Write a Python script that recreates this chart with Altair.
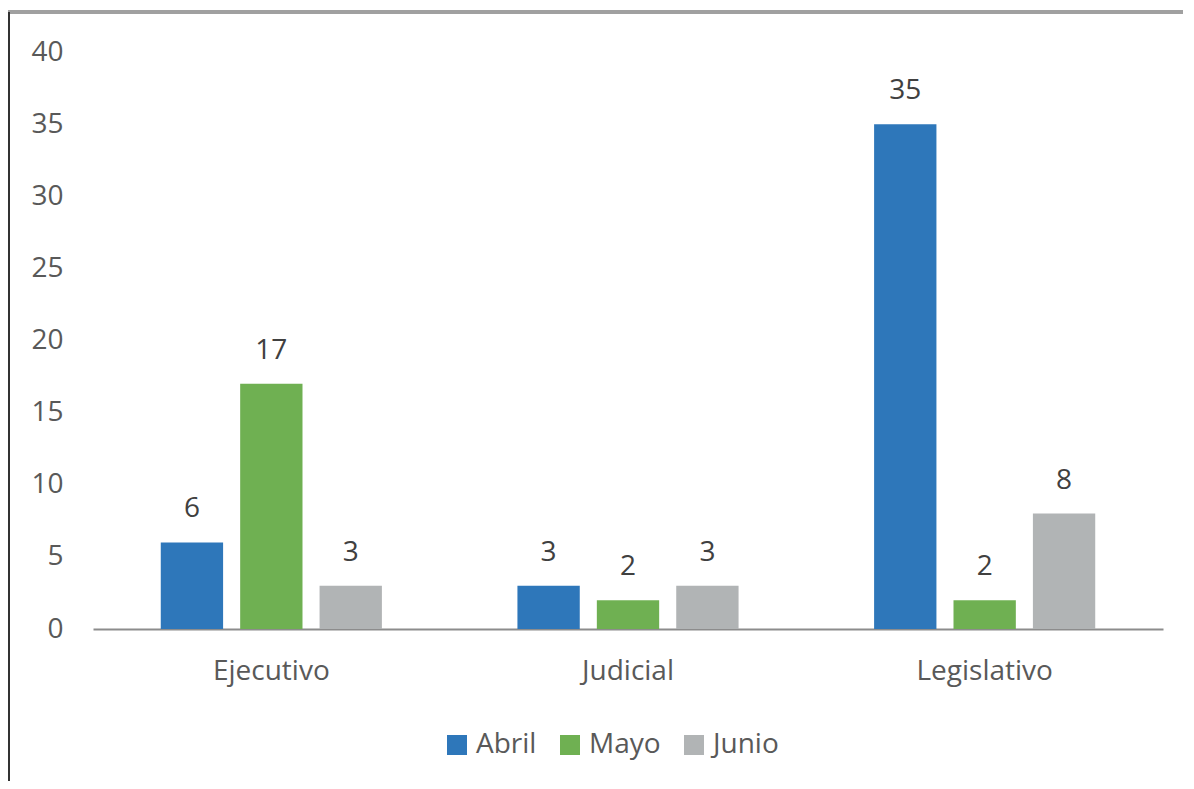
import altair as alt
import pandas as pd

categories = ["Ejecutivo", "Judicial", "Legislativo"]
months = ["Abril", "Mayo", "Junio"]
abril = [6, 3, 35]
mayo = [17, 2, 2]
junio = [3, 3, 8]
colors = ["#2E77BA", "#6FB052", "#B1B4B5"]

rows = []
for i, c in enumerate(categories):
    for m, vals in zip(months, [abril, mayo, junio]):
        rows.append({"cat": c, "mes": m, "val": vals[i]})
df = pd.DataFrame(rows)

FONT = "Open Sans"
FS = 28

x = alt.X("cat:N", sort=categories, title=None,
          scale=alt.Scale(paddingInner=0.38, paddingOuter=0.19),
          axis=alt.Axis(labelAngle=0, labelFontSize=FS, labelColor="#595959",
                        labelFont=FONT, labelPadding=28, ticks=False,
                        domainColor="#8c8c8c", domainWidth=2))
xo = alt.XOffset("mes:N", sort=months,
                 scale=alt.Scale(paddingInner=0.215, paddingOuter=0))
y = alt.Y("val:Q", title=None,
          scale=alt.Scale(domain=[0, 40]),
          axis=alt.Axis(values=[0, 5, 10, 15, 20, 25, 30, 35, 40], grid=False,
                        domain=False, ticks=False, labelFontSize=FS,
                        labelColor="#595959", labelFont=FONT, labelPadding=30))
color = alt.Color("mes:N", sort=months,
                  scale=alt.Scale(domain=months, range=colors),
                  legend=alt.Legend(title=None, orient="none", direction="horizontal",
                                    legendX=350, legendY=679,
                                    symbolType="square", symbolSize=400,
                                    symbolStrokeWidth=0, labelFontSize=FS,
                                    labelFont=FONT, labelColor="#595959",
                                    columnPadding=19, labelOffset=5))

bars = alt.Chart(df).mark_bar().encode(x=x, xOffset=xo, y=y, color=color)
labels = alt.Chart(df).mark_text(dy=-19, baseline="bottom", fontSize=FS,
                                 font=FONT, color="#404040").encode(
    x=x, xOffset=xo, y=y, text="val:Q")

frame_top = alt.Chart(df).mark_rule(color="#a0a0a0", strokeWidth=3).encode(
    x=alt.value(-85), x2=alt.value(1120), y=alt.value(-40))
frame_left = alt.Chart(df).mark_rule(color="#333333", strokeWidth=1.5).encode(
    x=alt.value(-84), y=alt.value(-40), y2=alt.value(780))

chart = alt.layer(frame_top, frame_left, bars, labels).properties(
    width=1070, height=577,
    padding={"left": 85, "top": 44, "right": 20, "bottom": 152},
    autosize=alt.AutoSizeParams(type="none"),
).configure_view(stroke=None)

chart.save("out.html", embed_options={"renderer": "svg", "actions": False})
